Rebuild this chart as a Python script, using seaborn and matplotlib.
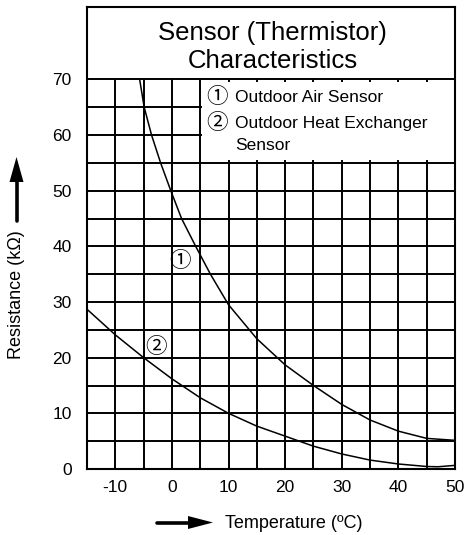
import matplotlib
matplotlib.use("Agg")
import numpy as np
import pandas as pd
import matplotlib.pyplot as plt
import seaborn as sns
from matplotlib.lines import Line2D
from matplotlib.patches import Polygon, Rectangle

# ---- data ----
air_temp = [-5.7, -4.9, -3.6, -2.0, -0.2, 1.7, 4.2, 6.8, 10.0, 15.0, 20.0, 25.0, 30.0, 35.0, 40.0, 45.0, 50.0]
air_res = [70.0, 65.0, 60.0, 55.0, 50.0, 45.0, 40.0, 35.0, 29.5, 23.4, 18.7, 15.0, 11.6, 8.8, 6.8, 5.5, 5.15]

hx_temp = [-15.0, -10.0, -5.0, 0.0, 5.0, 10.0, 15.0, 20.0, 25.0, 30.0, 35.0, 40.0, 45.0, 47.0, 50.0]
hx_res = [28.7, 24.1, 20.0, 16.2, 12.8, 10.0, 7.7, 5.9, 4.1, 2.7, 1.6, 0.9, 0.45, 0.4, 0.65]

x_ticks = [-10, 0, 10, 20, 30, 40, 50]
y_ticks = [0, 10, 20, 30, 40, 50, 60, 70]
title_lines = ["Sensor (Thermistor)", "Characteristics"]
sensor_marks = ["\u2460", "\u2461"]
sensor_labels = ["Outdoor Air Sensor", "Outdoor Heat Exchanger\nSensor"]
x_label = "Temperature (\u00baC)"
y_label = "Resistance (k\u03a9)"

# ---- style ----
sns.set_style("white")
plt.rcParams["font.family"] = ["Liberation Sans", "DejaVu Sans", "Noto Sans CJK JP"]
plt.rcParams["axes.unicode_minus"] = False
plt.rcParams["text.color"] = "black"

W, H = 467, 535
fig = plt.figure(figsize=(W / 100, H / 100), dpi=100)
ax = fig.add_axes([87 / W, (H - 469) / H, (455 - 87) / W, (469 - 7) / H])


def px(x, y):
    return (x / W, 1 - y / H)


df = pd.concat([
    pd.DataFrame({"Temperature": air_temp, "Resistance": air_res, "Sensor": sensor_labels[0]}),
    pd.DataFrame({"Temperature": hx_temp, "Resistance": hx_res, "Sensor": sensor_labels[1]}),
], ignore_index=True)

sns.lineplot(data=df, x="Temperature", y="Resistance", hue="Sensor",
             palette=["black", "black"], sort=False, estimator=None,
             legend=False, linewidth=1.1, ax=ax, zorder=4)

ax.set_xlim(-15, 50)
ax.set_ylim(0, 83)

# grid
for v in np.arange(-10, 50, 5):
    ax.vlines(v, 0, 70, color="black", lw=1.4, zorder=1)
for h in np.arange(5, 75, 5):
    ax.hlines(h, -15, 50, color="black", lw=1.4, zorder=1)

# legend area (white box over grid)
ax.add_patch(Rectangle((5.35, 55.6), 44.65, 13.85, facecolor="white",
                       edgecolor="none", zorder=2))

for s in ax.spines.values():
    s.set_color("black")
    s.set_linewidth(1.5)
    s.set_zorder(5)

ax.set_xticks(x_ticks)
ax.set_yticks(y_ticks)
ax.tick_params(axis="both", length=0, labelsize=12.5, colors="black", labelcolor="black")
ax.tick_params(axis="x", pad=8)
ax.tick_params(axis="y", pad=11)
ax.set_xlabel("")
ax.set_ylabel("")

# title inside box
ax.text(17.8, 78.4, title_lines[0], ha="center", va="center", fontsize=18.5, zorder=6)
ax.text(17.8, 73.3, title_lines[1], ha="center", va="center", fontsize=18.5, zorder=6)

CIRC = ["Noto Sans CJK JP", "DejaVu Sans"]

# legend text
leg_y = [66.8, 62.1]
for mark, lab, yy in zip(sensor_marks, sensor_labels, leg_y):
    ax.text(7.9, yy, mark, ha="center", va="center", fontsize=15.5, zorder=6, family=CIRC)
    for i, line in enumerate(lab.split("\n")):
        ax.text(11.1, yy - i * 3.95, line, ha="left", va="center", fontsize=12.5, zorder=6)

# curve markers
ax.text(1.5, 37.4, sensor_marks[0], ha="center", va="center", fontsize=15.5, zorder=6, family=CIRC)
ax.text(-2.9, 21.9, sensor_marks[1], ha="center", va="center", fontsize=15.5, zorder=6, family=CIRC)

# axis labels with arrows
fig.text(*px(17, 295), y_label, rotation=90, ha="center", va="center", fontsize=13)
fig.text(*px(225, 523), x_label, ha="left", va="center", fontsize=13)

# y arrow
fig.add_artist(Line2D([16.5 / W, 16.5 / W], [1 - 221 / H, 1 - 180 / H],
                      transform=fig.transFigure, color="black", lw=2.6))
fig.add_artist(Polygon([px(16.5, 157), px(9.5, 182), px(23.5, 182)], closed=True,
                       transform=fig.transFigure, facecolor="black", edgecolor="none"))
# x arrow
fig.add_artist(Line2D([157 / W, 190 / W], [1 - 522.5 / H, 1 - 522.5 / H],
                      transform=fig.transFigure, color="black", lw=2.6))
fig.add_artist(Polygon([px(213, 522.5), px(188, 516), px(188, 529)], closed=True,
                       transform=fig.transFigure, facecolor="black", edgecolor="none"))

fig.savefig("out.png", dpi=100, facecolor="white")
